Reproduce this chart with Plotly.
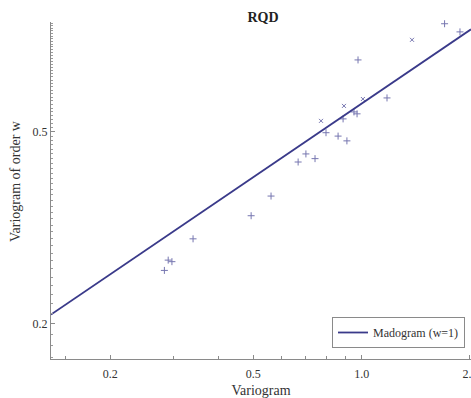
import plotly.graph_objects as go
import numpy as np

# data
plus_x = [1.70, 1.876, 0.977, 1.176, 0.971, 0.952, 0.888, 0.796, 0.86, 0.91, 0.70, 0.666, 0.742, 0.56, 0.493, 0.340, 0.290, 0.297, 0.283]
plus_y = [0.838, 0.806, 0.705, 0.588, 0.545, 0.550, 0.532, 0.498, 0.490, 0.479, 0.450, 0.433, 0.440, 0.368, 0.335, 0.300, 0.271, 0.269, 0.258]
cross_x = [1.38, 1.008, 0.893, 0.771]
cross_y = [0.776, 0.585, 0.566, 0.527]
fit_x = [0.137, 2.013]
fit_y = [0.209, 0.816]

x_ticks = [0.2, 0.5, 1.0, 2.0]
x_ticktext = ["0.2", "0.5", "1.0", "2.0"]
x_minor = [0.15, 0.3, 0.4, 0.6, 0.7, 0.8, 0.9]
y_ticks = [0.2, 0.5]
y_ticktext = ["0.2", "0.5"]
y_minor = [round(v, 2) for v in np.arange(0.17, 0.85, 0.01)]

FONT = "Liberation Serif"
mcol = "#7676b0"

fig = go.Figure()
fig.add_trace(go.Scatter(x=plus_x, y=plus_y, mode="markers", showlegend=False, cliponaxis=False,
                         marker=dict(symbol="cross-thin", size=5, line=dict(color=mcol, width=1))))
fig.add_trace(go.Scatter(x=cross_x, y=cross_y, mode="markers", showlegend=False, cliponaxis=False,
                         marker=dict(symbol="x-thin", size=4, line=dict(color=mcol, width=1))))
fig.add_trace(go.Scatter(x=fit_x, y=fit_y, mode="lines", name="Madogram (w=1)",
                         line=dict(color="#3a3a8a", width=1.8)))

axis_common = dict(showline=True, linecolor="#8a8a8a", linewidth=1, showgrid=False,
                   zeroline=False, ticks="inside", ticklen=4, tickcolor="#8a8a8a",
                   tickfont=dict(family=FONT, size=12, color="#333"), automargin=False,
                   mirror=False, ticklabeloverflow="allow")

fig.update_layout(
    width=471, height=398,
    margin=dict(l=51, r=0, t=22, b=39),
    paper_bgcolor="white", plot_bgcolor="white",
    title=dict(text="<b>RQD</b>", x=263/471, xanchor="center", y=1-17/398, yanchor="middle",
               font=dict(family=FONT, size=14, color="#222")),
    xaxis=dict(type="log", range=[np.log10(fit_x[0]), np.log10(fit_x[1])],
               tickmode="array", tickvals=x_ticks, ticktext=x_ticktext, ticklabelstandoff=4,
               minor=dict(tickmode="array", tickvals=x_minor, ticks="inside", ticklen=3, tickcolor="#8a8a8a"),
               title=dict(text="Variogram", font=dict(family=FONT, size=14, color="#333"), standoff=8),
               **axis_common),
    yaxis=dict(type="log", range=[np.log10(0.169), np.log10(0.845)],
               tickmode="array", tickvals=y_ticks, ticktext=y_ticktext,
               minor=dict(tickmode="array", tickvals=y_minor, ticks="inside", ticklen=2, tickcolor="#9a9a9a"),
               **axis_common),
    legend=dict(x=(332-51)/420, y=(359-317)/337, xanchor="left", yanchor="top",
                bordercolor="#8a8a8a", borderwidth=1, bgcolor="white",
                font=dict(family=FONT, size=12, color="#333")),
    annotations=[dict(text="Variogram of order w", textangle=-90, xref="paper", yref="paper",
                      x=-36/420, y=(359-181)/337, xanchor="center", yanchor="middle", showarrow=False,
                      font=dict(family=FONT, size=14, color="#333"))],
)

fig.write_html("out.html")
